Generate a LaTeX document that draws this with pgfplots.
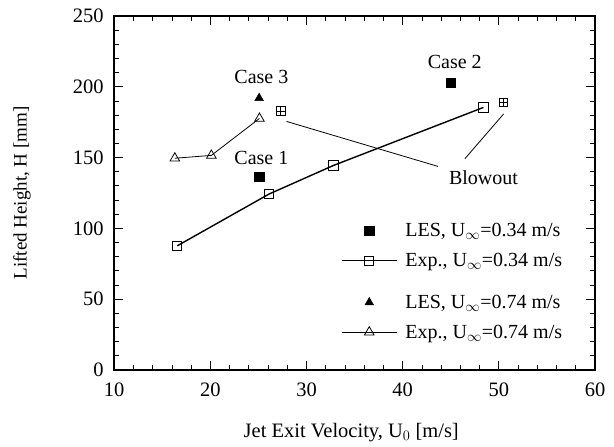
\documentclass[border=0pt]{standalone}
\usepackage{fontspec}
\setmainfont{Liberation Serif}
\usepackage{pgfplots}
\pgfplotsset{compat=1.18}
\usetikzlibrary{calc}

\begin{document}
\begin{tikzpicture}
\begin{axis}[
    name=ax,
    scale only axis,
    width=481pt, height=354pt,
    xmin=10, xmax=60, ymin=0, ymax=250,
    xtick={10,20,...,60}, ytick={0,50,...,250},
    minor x tick num=4, minor y tick num=4,
    tick align=inside,
    major tick length=9pt, minor tick length=5pt,
    axis line style={line width=1.6pt},
    every tick/.style={black, line width=0.8pt},
    font=\fontsize{20}{24}\selectfont,
    tick label style={font=\fontsize{20.5}{24}\selectfont},
    /pgf/number format/assume math mode=true,
    xticklabel style={yshift=-10pt},
    yticklabel style={xshift=-7pt},
    xlabel={Jet Exit Velocity, U$_0$ [m/s]},
    ylabel={Lifted Height, H [mm]},
    xlabel style={at={(axis description cs:0.493,-0.192)}, anchor=base,
        font=\fontsize{20.5}{24}\selectfont},
    ylabel style={at={(axis description cs:-0.182,0.5)}, anchor=base,
        font=\fontsize{19}{23}\selectfont},
    clip=false,
    legend cell align=left,
    legend style={at={(axis cs:33.57,105)}, anchor=north west,
        draw=none, fill=none, inner xsep=0pt, inner ysep=0pt,
        row sep=11pt, /tikz/every odd column/.append style={column sep=6pt}},
    legend image code/.code={\draw[mark repeat=2,mark phase=2,#1]
        plot coordinates {(0pt,0pt) (27.5pt,0pt) (55pt,0pt)};},
]
% LES, U=0.34
\addplot[only marks, mark=square*, mark size=4.6pt, black]
    coordinates {(25.07,136.6) (45.0,203.0)};
\addlegendentry{LES, U$_\infty$=0.34 m/s}
% Exp., U=0.34
\addplot[black, line width=1.4pt, mark=square, mark size=4.6pt,
    mark options={fill=white, line width=0.8pt}]
    coordinates {(16.55,87.6) (26.1,124.2) (32.8,144.4) (48.4,185.4)};
\addlegendentry{Exp., U$_\infty$=0.34 m/s}
\addlegendimage{empty legend}
\addlegendentry[text depth=0pt, inner sep=0pt]{\mbox{}}
% LES, U=0.74
\addplot[only marks, mark=triangle*, mark size=5pt, black]
    coordinates {(25.07,192.0)};
\addlegendentry{LES, U$_\infty$=0.74 m/s}
% Exp., U=0.74
\addplot[black, line width=0.8pt, mark=triangle, mark size=5.5pt,
    mark options={fill=white}]
    coordinates {(16.3,149.5) (20.1,151.5) (25.1,177.6)};
\addlegendentry{Exp., U$_\infty$=0.74 m/s}
% blowout points
\addplot[forget plot, only marks, black, mark=square, mark size=4.3pt,
    mark options={line width=0.6pt}]
    coordinates {(27.3,183.0) (50.48,188.9)};
\addplot[forget plot, only marks, black, mark=+, mark size=4.3pt,
    mark options={line width=0.6pt}]
    coordinates {(27.3,183.0) (50.48,188.9)};
% blowout leader lines
\addplot[forget plot, black, line width=0.8pt] coordinates {(27.92,175.5) (43.68,143.7)};
\addplot[forget plot, black, line width=0.8pt] coordinates {(50.51,180.9) (46.46,149.1)};
\node at (axis cs:48.4,135.5) {Blowout};
\node at (axis cs:25.3,206.9) {Case 3};
\node at (axis cs:25.3,149.6) {Case 1};
\node at (axis cs:45.42,217.4) {Case 2};
\end{axis}
\path ($(ax.south west)+(-114.3pt,-77pt)$) rectangle ($(ax.north east)+(19pt,16pt)$);
\end{tikzpicture}
\end{document}
